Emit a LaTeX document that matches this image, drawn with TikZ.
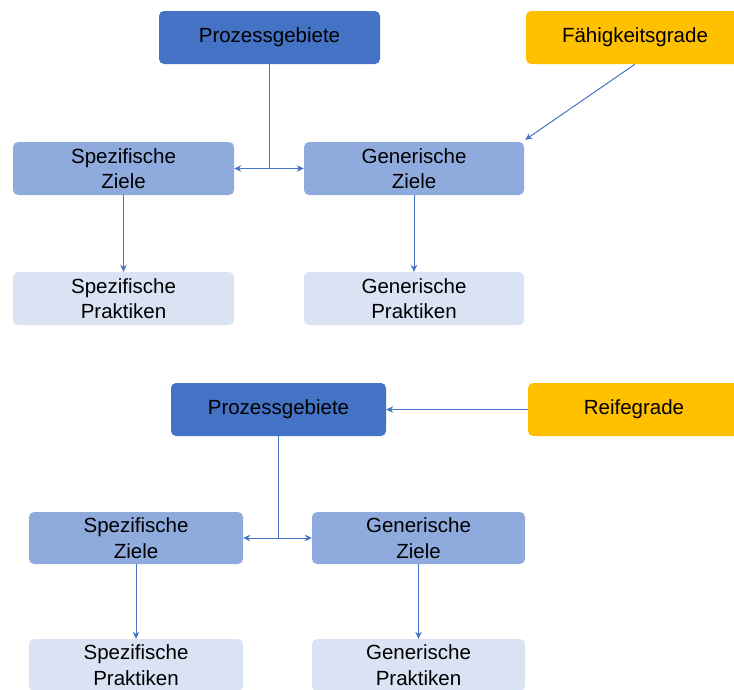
\documentclass[tikz,border=0pt]{standalone}
\usepackage{fontspec}
\setmainfont{Liberation Sans}
\usetikzlibrary{arrows.meta}
\definecolor{areablue}{HTML}{4472C4}
\definecolor{goalblue}{HTML}{8FAADC}
\definecolor{practiceblue}{HTML}{DAE3F3}
\definecolor{levelgold}{HTML}{FFC000}
\tikzset{
  box/.style={rounded corners=5pt, inner sep=0pt, align=center,
    font=\fontsize{20.5}{25.5}\selectfont, text=black,
    execute at begin node={\vspace*{5pt}}},
  areabox/.style={box, fill=areablue, minimum height=53pt},
  goalbox/.style={box, fill=goalblue, minimum height=53pt},
  practicebox/.style={box, fill=practiceblue, minimum height=53pt},
  levelbox/.style={box, fill=levelgold, minimum height=53pt},
  link/.style={draw=areablue, line width=1pt},
  arrow/.style={link, -{Stealth[length=7pt,width=6.5pt]}},
  twoarrow/.style={link, {Stealth[length=7pt,width=6.5pt]}-{Stealth[length=7pt,width=6.5pt]}}
}
\begin{document}
\begin{tikzpicture}[x=1pt,y=-1pt]
  \useasboundingbox (0,0) rectangle (734,689);

  % upper model: capability levels
  \node[areabox, minimum width=221pt] (pgA) at (269.5,37.5) {Prozessgebiete};
  \node[levelbox, minimum width=218pt] (fg) at (635,37.5) {Fähigkeitsgrade};
  \node[goalbox, minimum width=221pt] (szA) at (123.5,168.5) {Spezifische\\Ziele};
  \node[goalbox, minimum width=220pt] (gzA) at (414,168.5) {Generische\\Ziele};
  \node[practicebox, minimum width=221pt] (spA) at (123.5,298.5) {Spezifische\\Praktiken};
  \node[practicebox, minimum width=220pt] (gpA) at (414,298.5) {Generische\\Praktiken};

  \coordinate (jA) at (pgA.south |- szA.east);
  \draw[link] (pgA.south) -- (jA);
  \draw[twoarrow] (szA.east) -- (gzA.west);
  \draw[arrow] (fg.south) -- ([shift={(1,-2)}]gzA.north east);
  \draw[arrow] (szA.south) -- (spA.north);
  \draw[arrow] (gzA.south) -- (gpA.north);

  % lower model: maturity levels
  \node[areabox, minimum width=215pt] (pgB) at (278.5,409.5) {Prozessgebiete};
  \node[levelbox, minimum width=212pt] (rg) at (634,409.5) {Reifegrade};
  \node[goalbox, minimum width=214pt, minimum height=52pt] (szB) at (136,538) {Spezifische\\Ziele};
  \node[goalbox, minimum width=213pt, minimum height=52pt] (gzB) at (418.5,538) {Generische\\Ziele};
  \node[practicebox, minimum width=214pt, minimum height=52pt] (spB) at (136,665) {Spezifische\\Praktiken};
  \node[practicebox, minimum width=213pt, minimum height=52pt] (gpB) at (418.5,665) {Generische\\Praktiken};

  \coordinate (jB) at (pgB.south |- szB.east);
  \draw[link] (pgB.south) -- (jB);
  \draw[twoarrow] (szB.east) -- (gzB.west);
  \draw[arrow] (rg.west) -- (pgB.east);
  \draw[arrow] (szB.south) -- (spB.north);
  \draw[arrow] (gzB.south) -- (gpB.north);
\end{tikzpicture}
\end{document}
